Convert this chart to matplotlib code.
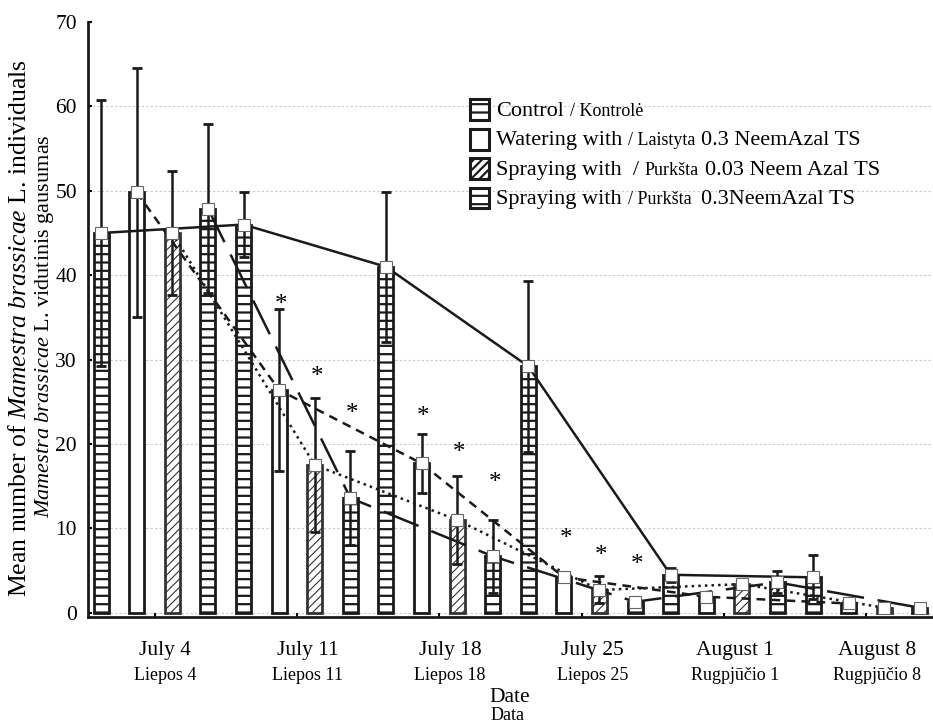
import numpy as np
import matplotlib
matplotlib.use("Agg")
import matplotlib.pyplot as plt
from matplotlib import transforms
from matplotlib.patches import Rectangle
from matplotlib.offsetbox import TextArea, HPacker, VPacker, DrawingArea, AnchoredOffsetbox

plt.rcParams['font.family'] = ['Liberation Serif', 'DejaVu Serif']
plt.rcParams['mathtext.fontset'] = 'custom'
plt.rcParams['mathtext.rm'] = 'Liberation Serif'
plt.rcParams['mathtext.it'] = 'Liberation Serif:italic'
plt.rcParams['hatch.linewidth'] = 1.6

# dates (EN / LT)
dates_en = ['July 4', 'July 11', 'July 18', 'July 25', 'August 1', 'August 8']
dates_lt = ['Liepos 4', 'Liepos 11', 'Liepos 18', 'Liepos 25', 'Rugpjūčio 1', 'Rugpjūčio 8']

# mean number of individuals and error bars
control = [45.0, 46.0, 41.0, 29.2, 4.5, 4.2]
control_err = [15.8, 3.8, 8.9, 10.1, 0.8, 2.6]
watering = [49.8, 26.4, 17.7, 4.2, 1.9, 1.1]
watering_err = [14.8, 9.6, 3.5, 0, 0, 0]
spray003 = [45.0, 17.5, 11.0, 2.7, 3.4, 0.6]
spray003_err = [7.3, 7.9, 5.2, 1.6, 0, 0]
spray03 = [47.9, 13.6, 6.7, 1.3, 3.6, 0.6]
spray03_err = [10.0, 5.6, 4.3, 0, 1.3, 0]

# significance marks (bar index, height)
star_idx = [5, 6, 7, 9, 10, 11, 13, 14, 15]
star_y = [37.1, 28.5, 24.2, 23.8, 19.5, 16.0, 9.3, 7.3, 6.2]

ink = '#1a1a1a'

fig = plt.figure(figsize=(9.33, 7.24), dpi=100)
ax = fig.add_axes([88 / 933, (724 - 617) / 724, (933 - 88) / 933, (617 - 22) / 724])

series = [
    (control, control_err, '--', '-'),
    (watering, watering_err, None, (0, (3.5, 2.5))),
    (spray003, spray003_err, '////', ':'),
    (spray03, spray03_err, '--', (0, (15, 5.5))),
]

for k, (vals, errs, hatch, ls) in enumerate(series):
    vals = np.array(vals)
    errs = np.array(errs)
    x = np.arange(len(vals)) * 4 + k
    bars = ax.bar(x, vals, width=0.42, color='white', edgecolor=ink,
                  linewidth=2.0, hatch=hatch, zorder=2)
    if hatch == '////':
        for b in bars:
            b.set_edgecolor('#333333')
            if hasattr(b, 'set_hatch_linewidth'):
                b.set_hatch_linewidth(0.8)
    m = errs > 0
    ax.errorbar(x[m], vals[m], yerr=errs[m], fmt='none', ecolor=ink,
                elinewidth=1.8, capsize=3.5, capthick=2, zorder=4)
    ax.plot(x, vals, linestyle=ls, color=ink, lw=1.8, zorder=3)
    ax.plot(x, vals, 's', ms=8, mfc='white', mec='#666666', mew=0.8, zorder=5)

star_tr = transforms.offset_copy(ax.transData, fig=fig, x=2, y=-5, units='dots')
for xi, yi in zip(star_idx, star_y):
    ax.text(xi, yi, '*', ha='center', va='center', fontsize=18,
            transform=star_tr, zorder=6)

for yv in range(0, 61, 10):
    ax.axhline(yv, color='#c8c8c8', lw=0.8, ls=(0, (2, 2)), zorder=1)

ax.set_xlim(-0.37, 23.37)
ax.set_ylim(-0.5, 70)
ax.set_yticks(range(0, 71, 10))
ax.tick_params(axis='y', direction='in', length=3, width=1.5, labelsize=15.5, pad=8)
ax.set_xticks(np.arange(6) * 4 + 1.5)
ax.tick_params(axis='x', direction='in', length=3, width=1.5, labelbottom=False)
for s in ['top', 'right']:
    ax.spines[s].set_visible(False)
for s in ['left', 'bottom']:
    ax.spines[s].set_linewidth(2)
    ax.spines[s].set_color(ink)

xt = ax.get_xaxis_transform()
for g in range(6):
    cx = g * 4 + 1.8
    ax.text(cx, -0.0555, dates_en[g], ha='center', va='center', fontsize=15.5, transform=xt)
    ax.text(cx, -0.0975, dates_lt[g], ha='center', va='center', fontsize=13, transform=xt)

fig.text(510 / 933, 1 - 697 / 724, 'Date', ha='center', va='center', fontsize=15.5)
fig.text(508 / 933, 1 - 716 / 724, 'Data', ha='center', va='center', fontsize=13)

fig.text(20 / 933, 1 - 328 / 724, r'Mean number of $\mathit{Mamestra\ brassicae}$ L. individuals',
         rotation=90, ha='center', va='center', fontsize=18.5)
fig.text(45 / 933, 1 - 326 / 724, r'$\mathit{Mamestra\ brassicae}$ L. vidutinis gausumas',
         rotation=90, ha='center', va='center', fontsize=16)

# legend with mixed font sizes
leg_rows = [
    ('--', 'Control', '/ Kontrolė', ''),
    (None, 'Watering with', '/ Laistyta', '0.3 NeemAzal TS'),
    ('////', 'Spraying with  /', 'Purkšta', '0.03 Neem Azal TS'),
    ('--', 'Spraying with', '/ Purkšta ', '0.3NeemAzal TS'),
]
rows = []
for hatch, a, b, c in leg_rows:
    da = DrawingArea(15, 13, 0, 3)
    r = Rectangle((0, -3), 14, 15, facecolor='white', edgecolor=ink, lw=2.2, hatch=hatch)
    da.add_artist(r)
    kids = [da, TextArea(a, textprops=dict(size=16)), TextArea(b, textprops=dict(size=13))]
    if c:
        kids.append(TextArea(c, textprops=dict(size=16)))
    rows.append(HPacker(children=kids, align='baseline', pad=0, sep=4))
box = VPacker(children=rows, align='left', pad=0, sep=7.5)
anch = AnchoredOffsetbox(loc='upper left', child=box, bbox_to_anchor=(470 / 933, 1 - 102 / 724),
                         bbox_transform=fig.transFigure, frameon=False, pad=0, borderpad=0)
ax.add_artist(anch)

fig.savefig('out.png', dpi=100)
